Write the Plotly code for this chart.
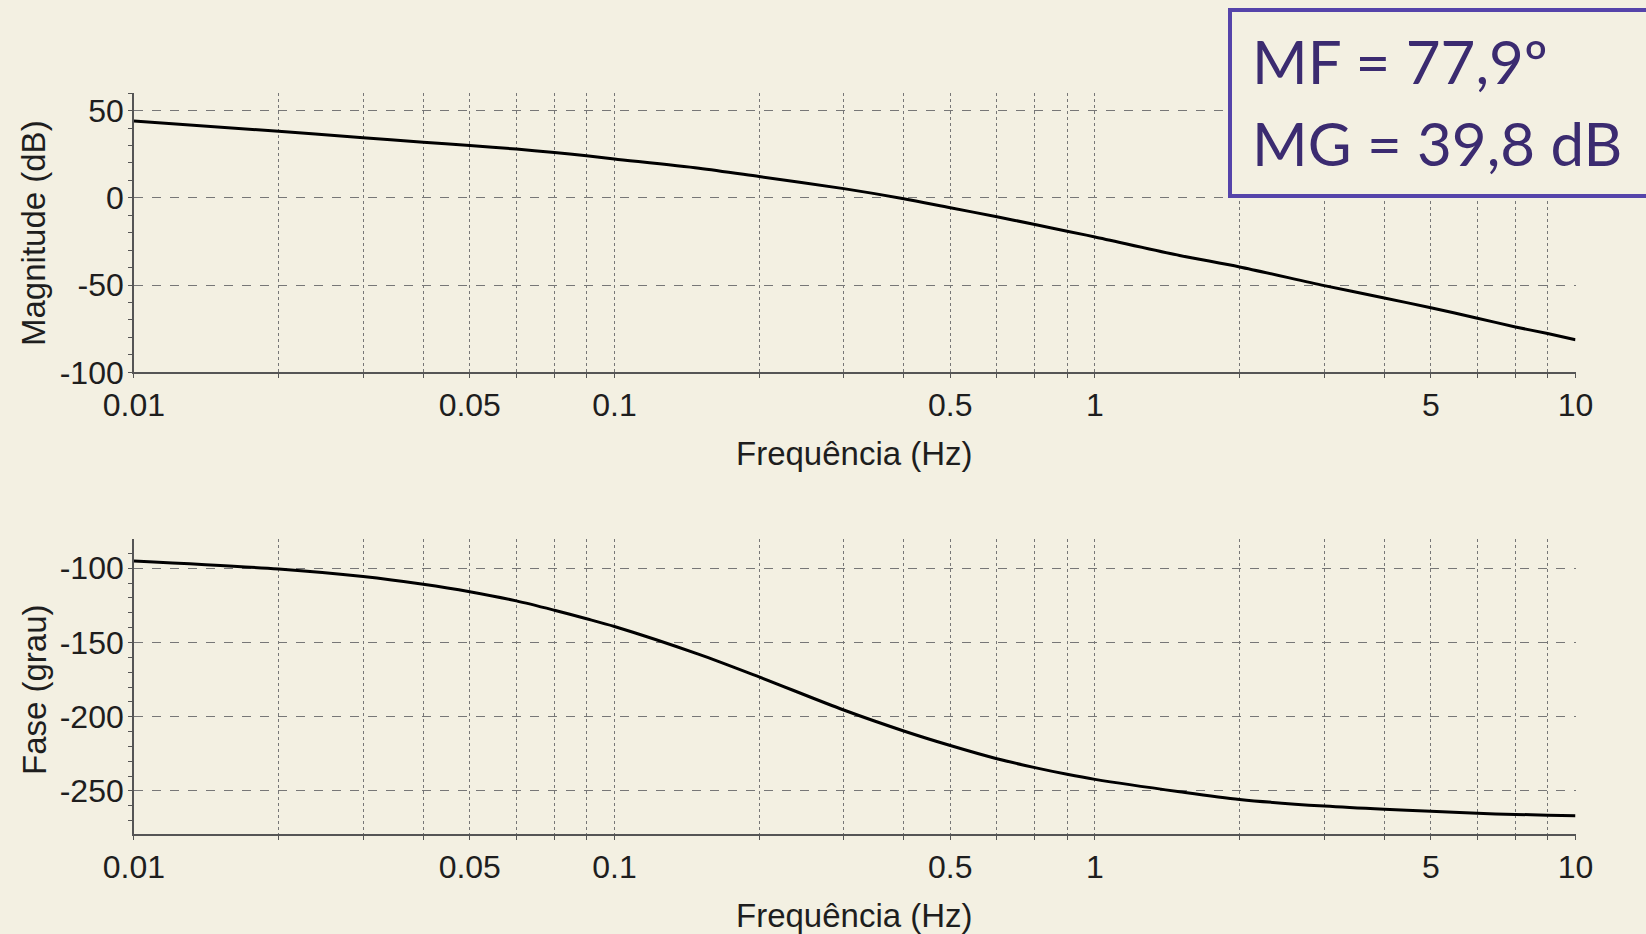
import plotly.graph_objects as go

# ---- data ----
freq_hz = [0.01, 0.02, 0.03, 0.04, 0.05, 0.0625, 0.075, 0.0875, 0.1, 0.15, 0.2, 0.3, 0.4, 0.5,
           0.625, 0.75, 0.875, 1, 1.5, 2, 3, 4, 5, 6.25, 7.5, 8.75, 10]
magnitude_db = [44.1, 38.2, 34.5, 31.9, 30.0, 28.0, 26.0, 24.1, 22.3, 17.0, 12.2, 5.3, -0.5, -5.7,
                -10.8, -15.3, -19.1, -22.4, -33.0, -39.6, -50.3, -57.4, -63.0, -69.0, -74.0, -77.8, -81.3]
phase_deg = [-95.1, -100.5, -105.6, -110.8, -115.8, -122.0, -128.3, -134.0, -139.2, -158.0, -173.2,
             -195.5, -209.6, -219.4, -228.3, -234.3, -238.8, -242.2, -250.5, -255.7, -260.2, -262.4,
             -263.7, -265.1, -265.8, -266.3, -266.7]

x_grid = [0.01, 0.02, 0.03, 0.04, 0.05, 0.0625, 0.075, 0.0875,
          0.1, 0.2, 0.3, 0.4, 0.5, 0.625, 0.75, 0.875,
          1, 2, 3, 4, 5, 6.25, 7.5, 8.75, 10]
x_labels = {0.01: "0.01", 0.05: "0.05", 0.1: "0.1", 0.5: "0.5", 1: "1", 5: "5", 10: "10"}
mag_ticks = [-100, -50, 0, 50]
phase_ticks = [-250, -200, -150, -100]

x_text = [x_labels.get(v, "") for v in x_grid]

W, H = 1646, 934
BG = "#F3F0E2"
GRID = "#777777"
AXIS = "#555555"
TXT = "#1e1e1e"
FONT = "Liberation Sans, Arial, sans-serif"

def px(x):
    return x / W

def py(y):
    return 1 - y / H

fig = go.Figure()
fig.add_trace(go.Scatter(x=freq_hz, y=magnitude_db, mode="lines", xaxis="x", yaxis="y",
                         line=dict(color="black", width=3, shape="spline", smoothing=0.8),
                         showlegend=False, hoverinfo="skip"))
fig.add_trace(go.Scatter(x=freq_hz, y=phase_deg, mode="lines", xaxis="x2", yaxis="y2",
                         line=dict(color="black", width=3, shape="spline", smoothing=0.8),
                         showlegend=False, hoverinfo="skip"))

xdom = [px(133.9), px(1575.5)]

def xaxis(anchor):
    return dict(type="log", range=[-2, 1], domain=xdom, anchor=anchor,
                tickmode="array", tickvals=x_grid, ticktext=x_text,
                ticks="outside", ticklen=4, tickcolor=AXIS, tickwidth=1,
                showgrid=True, gridcolor=GRID, griddash="dot", gridwidth=1,
                showline=True, linecolor=AXIS, linewidth=1.5,
                tickfont=dict(family=FONT, size=32, color=TXT),
                ticklabelstandoff=0, zeroline=False, automargin=False)

def yaxis(anchor, dom, rng, ticks):
    return dict(range=rng, domain=dom, anchor=anchor,
                tickmode="array", tickvals=ticks, ticktext=[str(t) for t in ticks],
                ticks="outside", ticklen=2, tickcolor=AXIS, tickwidth=1,
                minor=dict(dtick=10, tick0=0, ticks="outside", ticklen=4, tickcolor=AXIS, showgrid=False),
                showgrid=True, gridcolor=GRID, griddash="dash", gridwidth=1,
                showline=True, linecolor=AXIS, linewidth=1.5,
                tickfont=dict(family=FONT, size=32, color=TXT),
                ticklabelstandoff=0, zeroline=False, automargin=False)

fig.update_layout(
    width=W, height=H,
    margin=dict(l=0, r=0, t=0, b=0),
    paper_bgcolor=BG, plot_bgcolor=BG,
    xaxis=xaxis("y"),
    yaxis=yaxis("x", [py(372.3), py(92.7)], [-100, 60.3], mag_ticks),
    xaxis2=xaxis("y2"),
    yaxis2=yaxis("x2", [py(834.3), py(539)], [-279.2, -80.3], phase_ticks),
    showlegend=False,
)

title_font = dict(family=FONT, size=33, color=TXT)
ann = [
    dict(text="Magnitude (dB)", x=px(33), y=py(233), textangle=-90),
    dict(text="Fase (grau)", x=px(34), y=py(690), textangle=-90),
    dict(text="Frequência (Hz)", x=px(854.7), y=py(453.5)),
    dict(text="Frequência (Hz)", x=px(854.7), y=py(915.4)),
]
for a in ann:
    fig.add_annotation(xref="paper", yref="paper", showarrow=False, font=title_font,
                       xanchor="center", yanchor="middle", **a)

# margin box
fig.add_shape(type="rect", xref="paper", yref="paper",
              x0=px(1230), x1=px(1660), y0=py(196), y1=py(10),
              line=dict(color="#5544AA", width=4), fillcolor=BG, layer="above")
box_font = dict(family="Lato, Carlito, sans-serif", size=60, color="#3B2B70")
fig.add_annotation(xref="paper", yref="paper", showarrow=False, font=box_font,
                   text="MF = 77,9º", x=px(1250), y=py(61), xanchor="left", yanchor="middle")
fig.add_annotation(xref="paper", yref="paper", showarrow=False, font=box_font,
                   text="MG = 39,8 dB", x=px(1250), y=py(143), xanchor="left", yanchor="middle")

fig.write_html("out.html", config={"displayModeBar": False},
               post_script="document.body.style.margin='0';document.body.style.overflow='hidden';"
                           "document.body.style.background='" + BG + "';")
